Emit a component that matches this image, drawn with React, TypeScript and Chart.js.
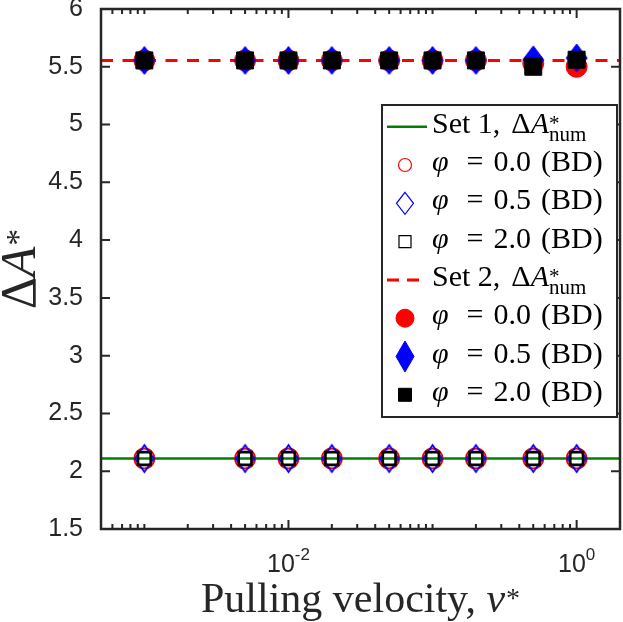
import { useEffect, useRef } from "react"
import { Chart, registerables } from "chart.js"

Chart.register(...registerables)

// pulling velocities of the BD runs
const vStar = [0.001, 0.005, 0.01, 0.02, 0.05, 0.1, 0.2, 0.5, 1]
const vRange = [5e-4, 2]

// Set 1
const set1Num = 2.11
const set1Phi00 = [2.11, 2.11, 2.11, 2.11, 2.11, 2.11, 2.11, 2.11, 2.11]
const set1Phi05 = [2.11, 2.11, 2.11, 2.11, 2.11, 2.11, 2.11, 2.11, 2.11]
const set1Phi20 = [2.11, 2.11, 2.11, 2.11, 2.11, 2.11, 2.11, 2.11, 2.11]

// Set 2
const set2Num = 5.555
const set2Phi00 = [5.555, 5.555, 5.555, 5.555, 5.555, 5.555, 5.555, 5.53, 5.5]
const set2Phi05 = [5.555, 5.555, 5.555, 5.555, 5.555, 5.555, 5.555, 5.56, 5.576]
const set2Phi20 = [5.555, 5.555, 5.555, 5.555, 5.555, 5.555, 5.555, 5.5, 5.561]

const phiLabels = ["0.0", "0.5", "2.0"]

const yTicks = [1.5, 2, 2.5, 3, 3.5, 4, 4.5, 5, 5.5, 6]
const xTicks = [0.01, 1]
const xTickExp = ["-2", "0"]

const RED = "#ff0000"
const BLUE = "#0000ff"
const BLACK = "#000000"
const GREEN = "#008000"
const AX = "#262626"
const SERIF = '"Liberation Serif", "Times New Roman", serif'
const SANS = '"Liberation Sans", Arial, sans-serif'

type Run = { t: string; size: number; italic?: boolean; rise?: number; gap?: number; stack?: boolean }

// draws (or only measures) a line of text made of runs with different styles
function runs(ctx: CanvasRenderingContext2D, list: Run[], x: number, y: number, draw = true) {
    let cx = x
    let prev = x
    for (const r of list) {
        ctx.font = `${r.italic ? "italic " : ""}${r.size}px ${SERIF}`
        const start = r.stack ? prev : cx
        if (draw) ctx.fillText(r.t, start, y - (r.rise ?? 0))
        const w = ctx.measureText(r.t).width
        prev = start
        cx = Math.max(cx, start + w) + (r.gap ?? 0)
    }
    return cx - x
}

function mark(ctx: CanvasRenderingContext2D, kind: string, x: number, y: number, w: number, h: number, color: string, filled: boolean, lw: number) {
    ctx.beginPath()
    if (kind === "circle") ctx.arc(x, y, w / 2, 0, Math.PI * 2)
    if (kind === "square") ctx.rect(x - w / 2, y - w / 2, w, w)
    if (kind === "diamond") {
        ctx.moveTo(x, y - h / 2)
        ctx.lineTo(x + w / 2, y)
        ctx.lineTo(x, y + h / 2)
        ctx.lineTo(x - w / 2, y)
        ctx.closePath()
    }
    if (filled) {
        ctx.fillStyle = color
        ctx.fill()
    }
    ctx.strokeStyle = color
    ctx.lineWidth = lw
    ctx.stroke()
}

function diamondImage(w: number, h: number, color: string, filled: boolean, lw: number) {
    const c = document.createElement("canvas")
    c.width = Math.ceil(w + lw * 2)
    c.height = Math.ceil(h + lw * 2)
    mark(c.getContext("2d")!, "diamond", c.width / 2, c.height / 2, w, h, color, filled, lw)
    return c
}

const phiRuns = (v: string): Run[] => [
    { t: "φ", size: 30, italic: true, gap: 18 },
    { t: "=", size: 30, gap: 10 },
    { t: v, size: 30, gap: 10 },
    { t: "(BD)", size: 30 },
]

const numRuns = (n: string): Run[] => [
    { t: "Set " + n + ",", size: 30, gap: 11 },
    { t: "Δ", size: 30 },
    { t: "A", size: 30, italic: true },
    { t: "*", size: 21, rise: 3 },
    { t: "num", size: 21, rise: -8, stack: true },
]

type Row = { label: Run[]; line?: { color: string; dash: number[]; width: number }; kind?: string; color?: string; filled?: boolean; w?: number; h?: number; lw?: number }

const legendRows: Row[] = [
    { label: numRuns("1"), line: { color: GREEN, dash: [], width: 2.5 } },
    { label: phiRuns(phiLabels[0]), kind: "circle", color: RED, filled: false, w: 13, h: 13, lw: 1.2 },
    { label: phiRuns(phiLabels[1]), kind: "diamond", color: BLUE, filled: false, w: 17, h: 22, lw: 1.2 },
    { label: phiRuns(phiLabels[2]), kind: "square", color: BLACK, filled: false, w: 12, h: 12, lw: 1.2 },
    { label: numRuns("2"), line: { color: RED, dash: [12, 8], width: 3 } },
    { label: phiRuns(phiLabels[0]), kind: "circle", color: RED, filled: true, w: 18, h: 18, lw: 1 },
    { label: phiRuns(phiLabels[1]), kind: "diamond", color: BLUE, filled: true, w: 18, h: 31, lw: 1 },
    { label: phiRuns(phiLabels[2]), kind: "square", color: BLACK, filled: true, w: 13, h: 13, lw: 1 },
]

const framePlugin = {
    id: "frame",
    afterDraw(chart: Chart) {
        const { ctx, chartArea: a, scales } = chart
        const sx = scales.x
        const sy = scales.y
        ctx.save()

        // inward ticks on all four sides
        ctx.strokeStyle = AX
        ctx.lineWidth = 2
        ctx.beginPath()
        for (const v of yTicks) {
            const py = sy.getPixelForValue(v)
            ctx.moveTo(a.left, py)
            ctx.lineTo(a.left + 9, py)
            ctx.moveTo(a.right, py)
            ctx.lineTo(a.right - 9, py)
        }
        for (let k = -4; k <= 0; k++) {
            for (let m = 1; m <= 9; m++) {
                const v = m * Math.pow(10, k)
                if (v <= vRange[0] || v >= vRange[1]) continue
                const len = xTicks.some((t) => Math.abs(t - v) < 1e-12) ? 9 : 5
                const px = sx.getPixelForValue(v)
                ctx.moveTo(px, a.bottom)
                ctx.lineTo(px, a.bottom - len)
                ctx.moveTo(px, a.top)
                ctx.lineTo(px, a.top + len)
            }
        }
        ctx.stroke()

        ctx.lineWidth = 2.5
        ctx.strokeRect(a.left, a.top, a.right - a.left, a.bottom - a.top)

        // x tick labels, 10 with a superscript exponent
        ctx.fillStyle = AX
        ctx.textBaseline = "alphabetic"
        xTicks.forEach((v, i) => {
            const px = sx.getPixelForValue(v)
            ctx.font = `25px ${SANS}`
            const wb = ctx.measureText("10").width
            ctx.font = `17px ${SANS}`
            const we = ctx.measureText(xTickExp[i]).width
            const x0 = px - (wb + we) / 2
            ctx.font = `25px ${SANS}`
            ctx.fillText("10", x0, a.bottom + 43)
            ctx.font = `17px ${SANS}`
            ctx.fillText(xTickExp[i], x0 + wb, a.bottom + 31)
        })

        // axis titles
        const xTitle: Run[] = [
            { t: "Pulling velocity, ", size: 42 },
            { t: "v", size: 42, italic: true, gap: 1 },
            { t: "*", size: 28, rise: 5 },
        ]
        const xw = runs(ctx, xTitle, 0, 0, false)
        runs(ctx, xTitle, (a.left + a.right) / 2 - xw / 2, a.bottom + 83)

        const yTitle: Run[] = [
            { t: "Δ", size: 50 },
            { t: "A", size: 50, italic: true, gap: 1 },
            { t: "*", size: 34, rise: 6 },
        ]
        ctx.save()
        ctx.translate(35, (a.top + a.bottom) / 2)
        ctx.rotate(-Math.PI / 2)
        const yw = runs(ctx, yTitle, 0, 0, false)
        runs(ctx, yTitle, -yw / 2, 0)
        ctx.restore()

        // legend box inside the axes
        const lx = a.right - 238
        const ly = a.top + 96
        const pitch = 38.3
        ctx.fillStyle = "#ffffff"
        ctx.fillRect(lx, ly, 235, 312)
        ctx.strokeStyle = AX
        ctx.lineWidth = 2
        ctx.strokeRect(lx, ly, 235, 312)
        legendRows.forEach((row, i) => {
            const cy = ly + 21.7 + i * pitch
            if (row.line) {
                ctx.save()
                ctx.strokeStyle = row.line.color
                ctx.lineWidth = row.line.width
                ctx.setLineDash(row.line.dash)
                ctx.beginPath()
                ctx.moveTo(lx + 5, cy)
                ctx.lineTo(lx + 45, cy)
                ctx.stroke()
                ctx.restore()
            } else {
                mark(ctx, row.kind!, lx + 23, cy, row.w!, row.h!, row.color!, row.filled!, row.lw!)
            }
            ctx.fillStyle = BLACK
            runs(ctx, row.label, lx + 50, cy + 6)
        })

        ctx.restore()
    },
}

export default function App() {
    const canvasRef = useRef<HTMLCanvasElement>(null)

    useEffect(() => {
        document.body.style.margin = "0"
        if (!canvasRef.current) return

        const pts = (ys: number[]) => vStar.map((x, i) => ({ x, y: ys[i] }))
        const lineAt = (y: number) => vRange.map((x) => ({ x, y }))
        const none = "rgba(0,0,0,0)"

        const chart = new Chart(canvasRef.current, {
            type: "scatter",
            data: {
                datasets: [
                    { label: "Set 1", data: lineAt(set1Num), showLine: true, borderColor: GREEN, borderWidth: 2.5, pointRadius: 0, order: 8 },
                    { label: "φ = 0.0 (BD)", data: pts(set1Phi00), pointStyle: "circle", pointRadius: 10, pointBorderWidth: 1.8, pointBorderColor: RED, pointBackgroundColor: none, order: 7 },
                    { label: "φ = 0.5 (BD)", data: pts(set1Phi05), pointStyle: diamondImage(19, 27, BLUE, false, 1.8), pointRadius: 10, order: 6 },
                    { label: "φ = 2.0 (BD)", data: pts(set1Phi20), pointStyle: "rect", pointRadius: 9, pointBorderWidth: 2.6, pointBorderColor: BLACK, pointBackgroundColor: none, order: 5 },
                    { label: "Set 2", data: lineAt(set2Num), showLine: true, borderColor: RED, borderWidth: 3, borderDash: [12, 9.5], pointRadius: 0, order: 4 },
                    { label: "φ = 0.0 (BD)", data: pts(set2Phi00), pointStyle: "circle", pointRadius: 10.5, pointBorderWidth: 1, pointBorderColor: RED, pointBackgroundColor: RED, order: 3 },
                    { label: "φ = 0.5 (BD)", data: pts(set2Phi05), pointStyle: diamondImage(21, 28, BLUE, true, 1), pointRadius: 10, order: 2 },
                    { label: "φ = 2.0 (BD)", data: pts(set2Phi20), pointStyle: "rect", pointRadius: 12, pointBorderWidth: 1, pointBorderColor: BLACK, pointBackgroundColor: BLACK, order: 1 },
                ],
            },
            options: {
                responsive: true,
                maintainAspectRatio: false,
                animation: false,
                events: [],
                layout: { autoPadding: false, padding: { top: 9, right: 3, left: 0, bottom: 0 } },
                plugins: { legend: { display: false }, tooltip: { enabled: false } },
                scales: {
                    x: {
                        type: "logarithmic",
                        min: vRange[0],
                        max: vRange[1],
                        ticks: { display: false },
                        grid: { display: false },
                        border: { display: false },
                        afterFit: (s) => {
                            s.height = 93
                            s.paddingLeft = 0
                            s.paddingRight = 0
                        },
                    },
                    y: {
                        type: "linear",
                        min: yTicks[0],
                        max: yTicks[yTicks.length - 1],
                        afterBuildTicks: (s) => {
                            s.ticks = yTicks.map((value) => ({ value }))
                        },
                        ticks: {
                            font: { family: SANS, size: 25 },
                            color: AX,
                            padding: 10,
                            callback: (v) => String(v),
                        },
                        grid: { display: false },
                        border: { display: false },
                        afterFit: (s) => {
                            s.width = 101
                            s.paddingTop = 0
                            s.paddingBottom = 0
                        },
                    },
                },
            },
            plugins: [framePlugin],
        })

        return () => {
            chart.destroy()
        }
    }, [])

    return (
        <div style={{ position: "relative", width: 623, height: 622, background: "#fff" }}>
            <canvas ref={canvasRef}></canvas>
        </div>
    )
}
